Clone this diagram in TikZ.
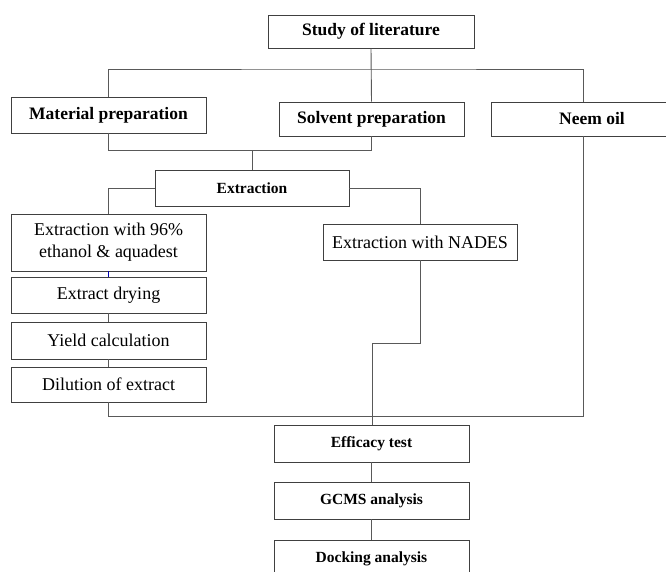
\documentclass[tikz,border=0pt]{standalone}
\usepackage{fontspec}
\setmainfont{Liberation Serif}
\begin{document}
\begin{tikzpicture}[x=1pt,y=-1pt,
  box/.style={draw=black!75,line width=0.9pt,fill=white,inner sep=0pt,align=center,minimum width=195pt,minimum height=36pt},
  hb/.style={box,font=\fontsize{17.5}{20}\selectfont\bfseries},
  hs/.style={box,font=\fontsize{15.5}{18}\selectfont\bfseries},
  nb/.style={box,font=\fontsize{18}{22}\selectfont},
  ln/.style={draw=black!65,line width=0.9pt}]
\clip (0,0) rectangle (666,572);
\fill[white] (0,0) rectangle (666,572);
% top
\node[hb,minimum width=206pt,minimum height=33pt] (study) at (371,31.5) {Study of literature};
\node[hb] (mat) at (108.5,115) {Material preparation};
\node[hb,minimum width=185pt,minimum height=34pt] (solv) at (371.5,119) {Solvent preparation};
\node[hb,minimum width=202pt,minimum height=34pt] (neem) at (592,119) {Neem oil};
\node[hs,minimum width=194pt] (ext) at (252,188) {Extraction};
\node[nb,minimum height=57pt] (e96) at (108.5,242.5) {Extraction with 96\%\\ethanol \& aquadest};
\node[nb,minimum width=194pt] (nades) at (420,242) {Extraction with NADES};
\node[nb] (dry) at (108.5,295) {Extract drying};
\node[nb,minimum height=37pt] (yield) at (108.5,340.5) {Yield calculation};
\node[nb,minimum height=35pt] (dil) at (108.5,384.5) {Dilution of extract};
\node[hs,minimum height=37pt] (eff) at (371.5,443.5) {Efficacy test};
\node[hs,minimum height=37pt] (gcms) at (371.5,500.5) {GCMS analysis};
\node[hs,minimum height=37pt] (dock) at (371.5,558.5) {Docking analysis};
% coordinates
\coordinate (neemtop) at (583,102);
\coordinate (neembot) at (583,136);
\coordinate (mtop) at (108,97);
\coordinate (mbot) at (108,133);
\coordinate (extop) at (252,170);
\coordinate (e96top) at (108,214);
\coordinate (nadtop) at (420,224);
\coordinate (nadbot) at (420,260);
\coordinate (dilbot) at (108,402);
\coordinate (efftop) at (372,425);
% connectors
\path[ln] (study.south) -- (solv.north);
\path[ln] (mtop) |- (371.5,69) -| (neemtop);
\path[ln] (mbot) |- (252,150) -- (extop);
\path[ln] (solv.south) |- (252,150);
\path[ln] (ext.west) -| (e96top);
\path[ln] (ext.east) -| (nadtop);
\draw[blue!70!black,line width=0.8pt] (e96.south) -- (dry.north);
\path[ln] (dry.south) -- (yield.north);
\path[ln] (yield.south) -- (dil.north);
\path[ln] (dilbot) |- (372,416);
\path[ln] (neembot) |- (372,416);
\path[ln] (nadbot) |- (372,343) -- (efftop);
\path[ln] (eff.south) -- (gcms.north);
\path[ln] (gcms.south) -- (dock.north);
\end{tikzpicture}
\end{document}
